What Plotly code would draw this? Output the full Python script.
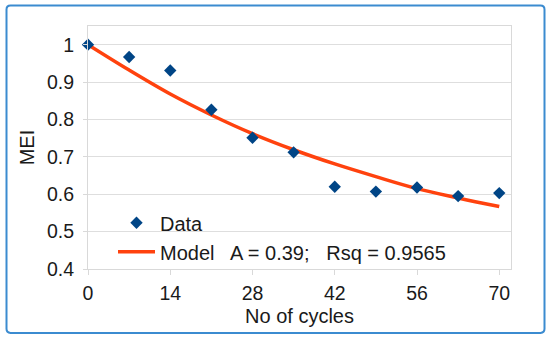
import plotly.graph_objects as go

cycles = [0, 7, 14, 21, 28, 35, 42, 49, 56, 63, 70]
mei_data = [1.0, 0.967, 0.931, 0.826, 0.751, 0.712, 0.620, 0.607, 0.618, 0.595, 0.603]
model_x = [0, 7, 14, 21, 28, 35, 42, 49, 56, 63, 70]
model_y = [1.0, 0.932, 0.868, 0.812, 0.762, 0.719, 0.681, 0.647, 0.615, 0.590, 0.567]
x_ticks = [0, 14, 28, 42, 56, 70]
y_ticks = [0.4, 0.5, 0.6, 0.7, 0.8, 0.9, 1.0]
y_ticktext = ["0.4", "0.5", "0.6", "0.7", "0.8", "0.9", "1"]

FONT = "Liberation Sans, Arial, sans-serif"

fig = go.Figure()
fig.add_trace(go.Scatter(
    x=model_x, y=model_y, mode="lines", line_shape="spline",
    line=dict(color="#ff420e", width=3.5),
    name="Model   A = 0.39;   Rsq = 0.9565", legendgroup="b", legendrank=2,
    cliponaxis=False,
))
fig.add_trace(go.Scatter(
    x=cycles, y=mei_data, mode="markers",
    marker=dict(symbol="diamond", size=9.5, color="#004586"),
    name="Data", legendgroup="a", legendrank=1,
    cliponaxis=False,
))

L, R, T, B = 88, 511, 26, 268.7
W, H = 550, 340
pw, ph = R - L, B - T

def pp(x, y):
    return f"{(x - L) / pw:.5f},{(B - y) / ph:.5f}"

# rounded outer frame
bl, br, bt, bb, rr = 6.5, 544.5, 5.5, 332.5, 4
path = (f"M {pp(bl + rr, bt)} L {pp(br - rr, bt)} Q {pp(br, bt)} {pp(br, bt + rr)} "
        f"L {pp(br, bb - rr)} Q {pp(br, bb)} {pp(br - rr, bb)} "
        f"L {pp(bl + rr, bb)} Q {pp(bl, bb)} {pp(bl, bb - rr)} "
        f"L {pp(bl, bt + rr)} Q {pp(bl, bt)} {pp(bl + rr, bt)} Z")
fig.add_shape(type="path", xref="paper", yref="paper", path=path,
              line=dict(color="#3b8bd0", width=2), layer="below")

fig.update_layout(
    width=W, height=H,
    margin=dict(l=L, r=W - R, t=T, b=H - B),
    paper_bgcolor="white", plot_bgcolor="white",
    font=dict(family=FONT, size=20, color="#1a1a1a"),
    showlegend=True,
    legend=dict(x=(113 - L) / pw, xanchor="left", y=(B - 203) / ph, yanchor="top",
                bgcolor="rgba(0,0,0,0)", traceorder="grouped", tracegroupgap=0,
                itemwidth=37, font=dict(family=FONT, size=20, color="#1a1a1a")),
    xaxis=dict(range=[0, 72], tickvals=x_ticks, showgrid=False, zeroline=False,
               showline=True, linecolor="#d9d9d9", linewidth=1, mirror=True,
               ticks="outside", ticklen=5, tickcolor="#d9d9d9", ticklabelstandoff=2,
               tickfont=dict(family=FONT, size=19.5, color="#1a1a1a"),
               title=dict(text="No of cycles", standoff=5,
                          font=dict(family=FONT, size=20, color="#1a1a1a"))),
    yaxis=dict(range=[0.4, 1.05], tickvals=y_ticks, ticktext=y_ticktext,
               showgrid=True, gridcolor="#dedede", gridwidth=1, zeroline=False,
               showline=True, linecolor="#d9d9d9", linewidth=1, mirror=True,
               ticks="outside", ticklen=4, tickcolor="#d9d9d9", ticklabelstandoff=5,
               tickfont=dict(family=FONT, size=19.5, color="#1a1a1a"),
               title=dict(text="MEI", standoff=6,
                          font=dict(family=FONT, size=20, color="#1a1a1a"))),
)

fig.write_html("out.html", config={"displayModeBar": False},
               post_script="document.body.style.margin='0';document.body.style.overflow='hidden';")
